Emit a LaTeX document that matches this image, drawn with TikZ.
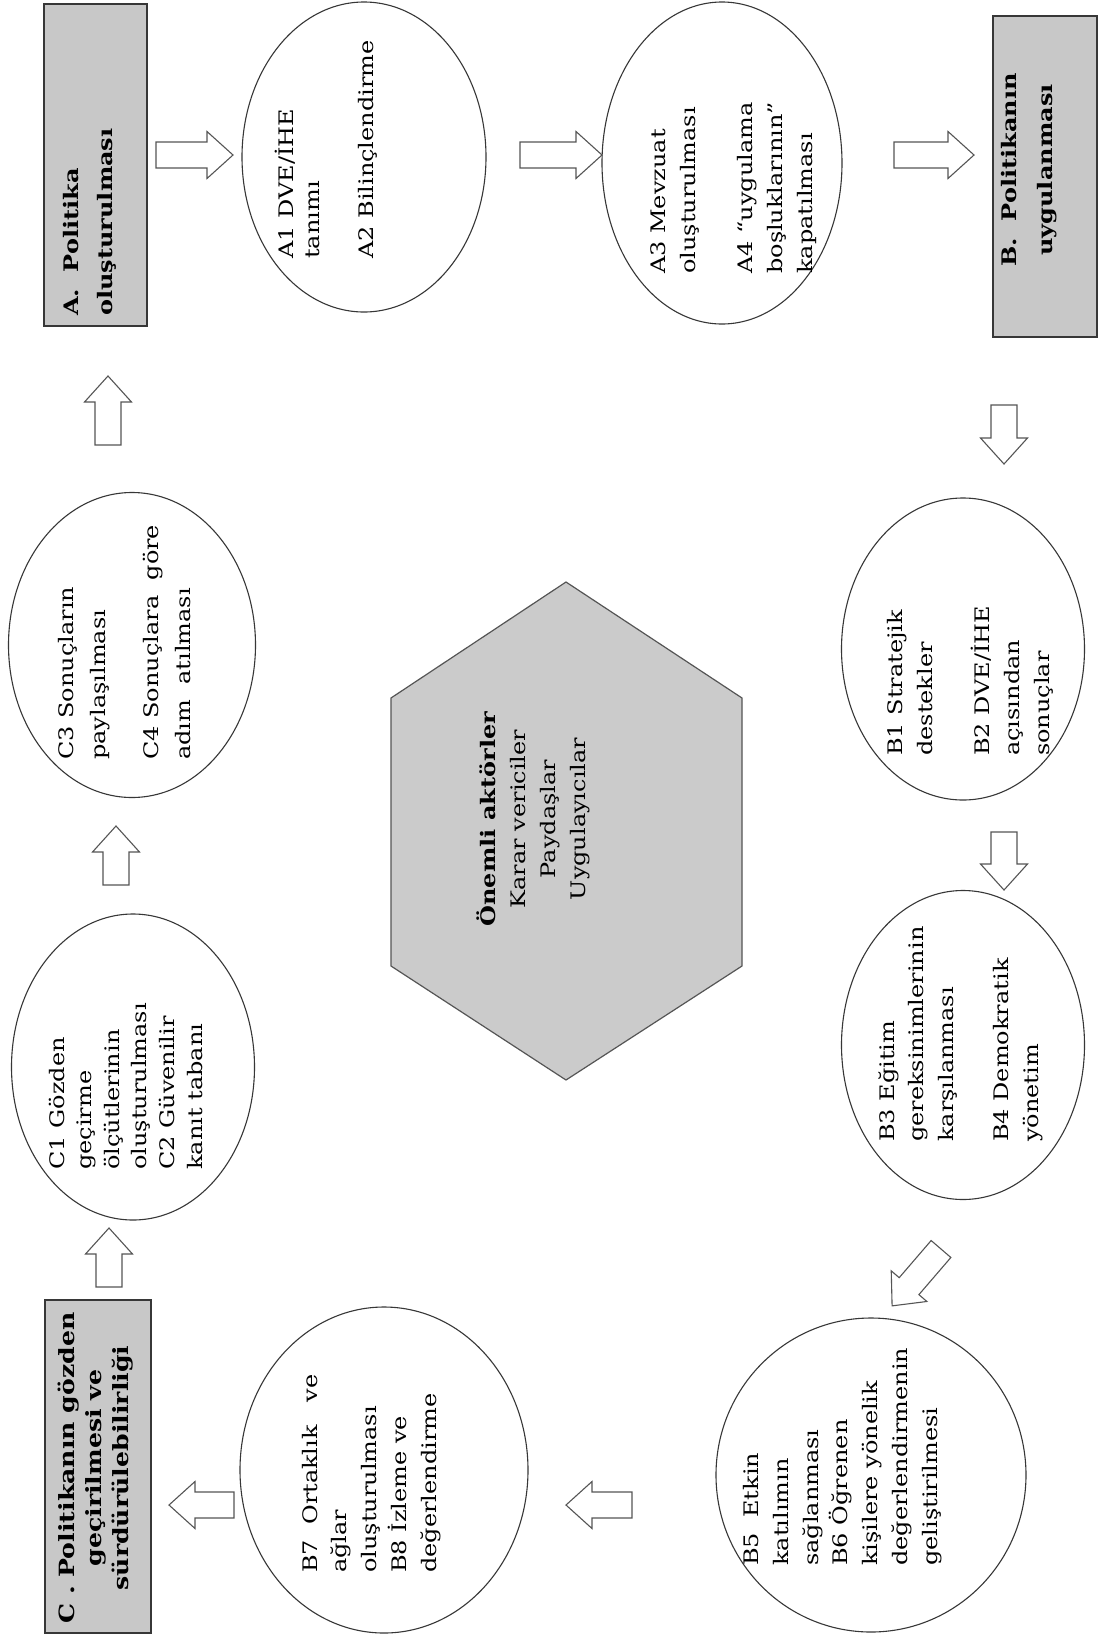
\documentclass[tikz,border=0pt]{standalone}
\usepackage{fontspec}
\setmainfont{DejaVu Serif}[FakeStretch=1.2]
\usetikzlibrary{shapes.geometric}
\definecolor{boxgray}{RGB}{200,200,200}
\definecolor{hexgray}{RGB}{203,203,203}
\definecolor{edgegray}{RGB}{55,55,55}
\definecolor{arrgray}{RGB}{85,85,85}
\tikzset{
  stagebox/.style={draw=edgegray, line width=1.8pt, fill=boxgray, inner sep=0pt},
  bubble/.style={ellipse, draw=edgegray, line width=1.1pt, inner sep=0pt},
  hexshape/.style={draw=arrgray, line width=1.2pt, fill=hexgray, line join=miter},
  txt/.style={rotate=90, inner sep=0pt, anchor=base west, align=left, font=\fontsize{20}{29.7}\selectfont},
  ctxt/.style={rotate=90, inner sep=0pt, anchor=base, align=center, font=\fontsize{20}{29.7}\selectfont},
  arrowline/.style={draw=arrgray, line width=1.1pt, fill=white, line join=miter},
  pics/barrow/.style={code={\path[arrowline] (0,-13) -- ({#1-26},-13) -- ({#1-26},-23.5) -- (#1,0) -- ({#1-26},23.5) -- ({#1-26},13) -- (0,13) -- cycle;}}
}
\begin{document}
\begin{tikzpicture}[x=1pt,y=-1pt]
\fill[white] (0,0) rectangle (1099,1636);
\useasboundingbox (0,0) rectangle (1099,1636);

% stage boxes
\node[stagebox, minimum width=103pt, minimum height=322pt] (boxA) at (95.5,165) {};
\node[stagebox, minimum width=104pt, minimum height=321pt] (boxB) at (1045,176.5) {};
\node[stagebox, minimum width=106pt, minimum height=333pt] (boxC) at (98,1466.5) {};

\node[txt, font=\bfseries\fontsize{20}{34}\selectfont] (boxAt) at (112,316) {A.\ \ Politika\\oluşturulması};
\node[ctxt, font=\bfseries\fontsize{20}{36}\selectfont] (boxBt) at (1052,170) {B.\ \ Politikanın\\uygulanması};
\node[ctxt, font=\bfseries\fontsize{21}{27}\selectfont] (boxCt) at (128,1468) {C . Politikanın gözden\\geçirilmesi ve\\sürdürülebilirliği};

% ellipses
\node[bubble, minimum width=244pt, minimum height=310pt] (a1) at (364,157) {};
\node[bubble, minimum width=240pt, minimum height=322pt] (a3) at (722,163) {};
\node[bubble, minimum width=243pt, minimum height=302pt] (b1) at (963,649) {};
\node[bubble, minimum width=243pt, minimum height=309pt] (b3) at (963,1045) {};
\node[bubble, minimum width=310pt, minimum height=314pt] (b5) at (871,1475) {};
\node[bubble, minimum width=288pt, minimum height=326pt] (b7) at (384,1470) {};
\node[bubble, minimum width=243pt, minimum height=306pt] (c1) at (133,1067) {};
\node[bubble, minimum width=247pt, minimum height=305pt] (c3) at (132,645) {};

% ellipse texts (anchor = baseline of the last line)
\node[txt, font=\fontsize{20}{26}\selectfont] (a1t) at (373,259) {A1 DVE/İHE\\tanımı\\[28pt]A2 Bilinçlendirme};
\node[txt, font=\fontsize{20}{30}\selectfont] (a3t) at (812,274) {A3 Mevzuat\\oluşturulması\\[27pt]A4 “uygulama\\boşluklarının”\\kapatılması};
\node[txt, font=\fontsize{20}{30}\selectfont] (b1t) at (1049,756) {B1 Stratejik\\destekler\\[27pt]B2 DVE/İHE\\açısından\\sonuçlar};
\node[txt] (b3t) at (1038,1142) {B3 Eğitim\\gereksinimlerinin\\karşılanması\\[25pt]B4 Demokratik\\yönetim};
\node[txt] (b5t) at (937,1566) {B5\ \ Etkin\\katılımın\\sağlanması\\B6 Öğrenen\\kişilere yönelik\\değerlendirmenin\\geliştirilmesi};
\node[txt] (b7t) at (436,1573) {B7\ \ Ortaklık\ \ \ ve\\ağlar\\oluşturulması\\B8 İzleme ve\\değerlendirme};
\node[txt, font=\fontsize{20}{27.6}\selectfont] (c1t) at (202,1170) {C1 Gözden\\geçirme\\ölçütlerinin\\oluşturulması\\C2 Güvenilir\\kanıt tabanı};
\node[txt, font=\fontsize{20}{32}\selectfont] (c3t) at (190,760) {C3 Sonuçların\\paylaşılması\\[21pt]C4 Sonuçlara\ \ göre\\adım\ \ atılması};

% central hexagon
\draw[hexshape] (566,582) -- (742,698) -- (742,966) -- (566,1080) -- (391,966) -- (391,698) -- cycle;
\node[ctxt] (hext) at (585,819) {\textbf{Önemli aktörler}\\Karar vericiler\\Paydaşlar\\Uygulayıcılar};

% block arrows
\pic (arr1) at (156,155) {barrow=77};
\pic (arr2) at (520,155) {barrow=82};
\pic (arr3) at (894,155) {barrow=80};
\pic[rotate=-90] (arr4) at (1004,405) {barrow=59};
\pic[rotate=-90] (arr5) at (1004,832) {barrow=58};
\pic[rotate=-130.7] (arr6) at (941,1249) {barrow=75};
\pic[rotate=180] (arr7) at (632,1505) {barrow=66};
\pic[rotate=180] (arr8) at (234,1505) {barrow=65};
\pic[rotate=90] (arr9) at (109,1287) {barrow=59};
\pic[rotate=90] (arr10) at (116,885) {barrow=59};
\pic[rotate=90] (arr11) at (108,445) {barrow=69};
\end{tikzpicture}
\end{document}
